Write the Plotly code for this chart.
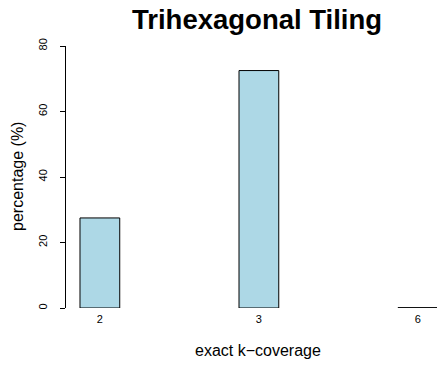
import plotly.graph_objects as go

categories = ["2", "3", "6"]
values = [27.5, 72.5, 0.1]
bar_pos = [3.5, 7.5, 11.5]
ytick_vals = [0, 20, 40, 60, 80]

W, H = 437, 368
l, r, t, b = 66, 0, 46.4, 60.3
pw, ph = W - l - r, H - t - b
def px(xp):
    return (xp - l) / pw
def py(yp):
    return (H - b - yp) / ph

fig = go.Figure()
fig.add_trace(go.Bar(
    x=bar_pos, y=values, width=1,
    marker=dict(color="#ADD8E6", line=dict(color="black", width=1)),
    showlegend=False,
))

font = "Liberation Sans, Arial, sans-serif"
common = dict(xref="paper", yref="paper", showarrow=False,
              xanchor="center", yanchor="middle")
fig.update_layout(
    width=W, height=H,
    margin=dict(l=l, r=r, t=t, b=b),
    paper_bgcolor="white", plot_bgcolor="white",
    font=dict(family=font, color="black"),
    xaxis=dict(range=[2.648, 11.981], tickvals=bar_pos, ticktext=categories,
               showgrid=False, zeroline=False, showline=False, ticks="",
               tickfont=dict(size=11), ticklabelstandoff=3),
    yaxis=dict(range=[0, 80], tickvals=ytick_vals, showgrid=False, zeroline=False,
               showline=True, linecolor="black", linewidth=1,
               ticks="outside", ticklen=5, tickcolor="black",
               tickangle=-90, tickfont=dict(size=11), ticklabelstandoff=9),
    annotations=[
        dict(text="<b>Trihexagonal Tiling</b>", x=px(257), y=py(20),
             font=dict(size=27.5), **common),
        dict(text="exact k\u2212coverage", x=px(258), y=py(350),
             font=dict(size=16), **common),
        dict(text="percentage (%)", x=px(18), y=py(177), textangle=-90,
             font=dict(size=16), **common),
    ],
)

fig.write_html("out.html")
